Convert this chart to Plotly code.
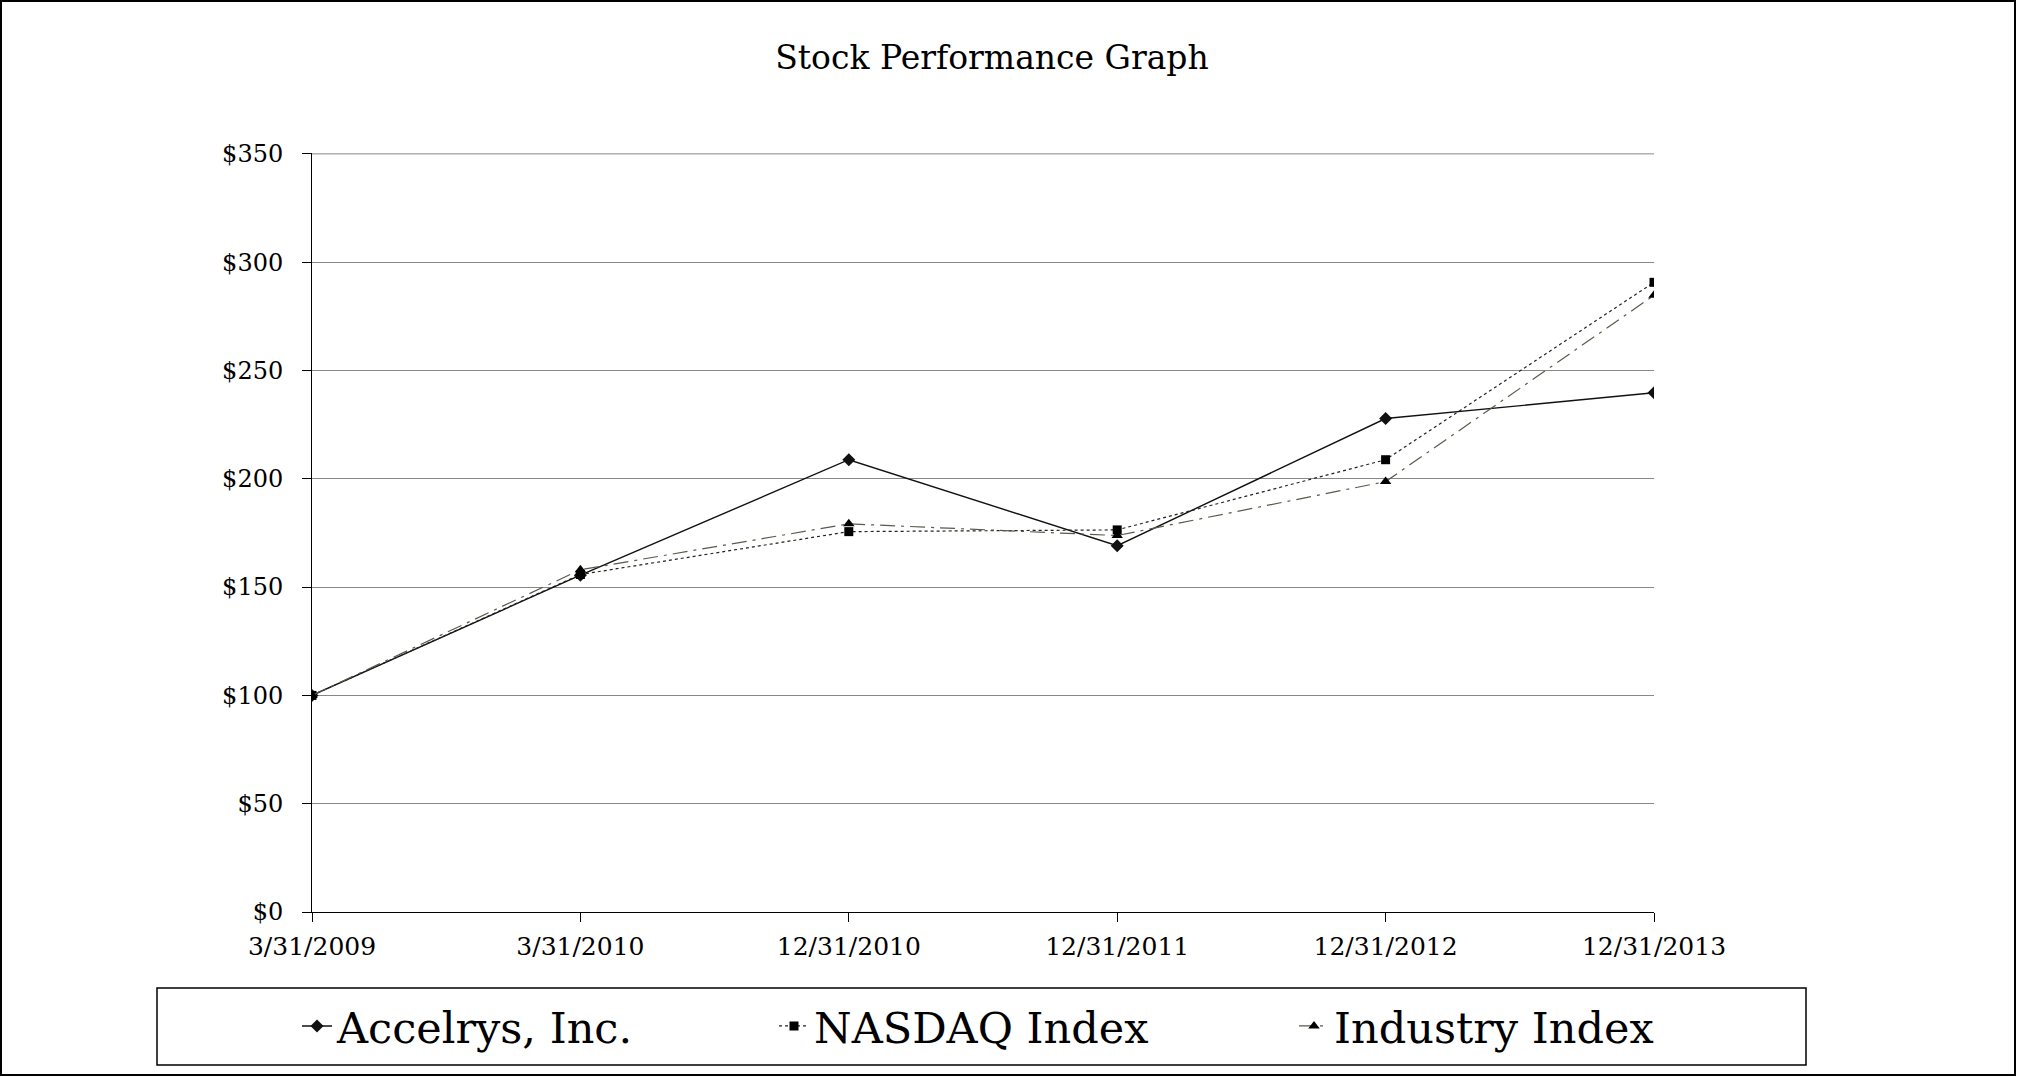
import plotly.graph_objects as go

dates = ["3/31/2009", "3/31/2010", "12/31/2010", "12/31/2011", "12/31/2012", "12/31/2013"]
accelrys = [100, 155.5, 208.8, 169.1, 227.8, 239.7]
nasdaq = [100, 155.8, 175.6, 176.4, 208.8, 290.7]
industry = [100, 158.0, 179.2, 173.8, 198.7, 284.7]
y_ticks = [0, 50, 100, 150, 200, 250, 300, 350]
y_tick_labels = ["$" + str(v) for v in y_ticks]

W, H = 2017, 1077
L, R, T, B = 312, 1654, 153, 912
pw, ph = R - L, B - T


def px(x):
    return (x - L) / pw


def py(y):
    return (B - y) / ph


FONT = "DejaVu Serif"

fig = go.Figure()
fig.add_trace(go.Scatter(
    x=dates, y=accelrys, name="Accelrys, Inc.", mode="lines+markers",
    line=dict(color="#111111", width=1.4, dash="solid"),
    marker=dict(symbol="diamond", size=10, color="#111111"),
    legendwidth=432,
))
fig.add_trace(go.Scatter(
    x=dates, y=nasdaq, name="NASDAQ Index", mode="lines+markers",
    line=dict(color="#222222", width=1.2, dash="dot"),
    marker=dict(symbol="square", size=9, color="#000000"),
    legendwidth=475,
))
fig.add_trace(go.Scatter(
    x=dates, y=industry, name="Industry Index", mode="lines+markers",
    line=dict(color="#5a5a4a", width=1.2, dash="longdashdot"),
    marker=dict(symbol="triangle-up", size=10, color="#000000"),
    legendwidth=340,
))

fig.update_layout(
    width=W, height=H,
    margin=dict(l=L, r=W - R, t=T, b=H - B),
    paper_bgcolor="white", plot_bgcolor="white",
    font=dict(family=FONT, color="#000000"),
    title=dict(text="Stock Performance Graph", x=992 / W, xanchor="center",
               y=1 - 57 / H, yanchor="middle", yref="container",
               font=dict(family=FONT, size=33, color="#000000")),
    showlegend=True,
    legend=dict(orientation="h", x=px(297), xanchor="left", y=py(1026), yanchor="middle",
                font=dict(family=FONT, size=43, color="#000000"),
                bgcolor="rgba(0,0,0,0)", borderwidth=0, itemwidth=30,
                traceorder="normal"),
    xaxis=dict(type="category", range=[0, 5], showgrid=False, showline=True,
               linecolor="#000000", linewidth=1, ticks="outside", ticklen=9,
               tickcolor="#000000", tickwidth=1, ticklabelstandoff=3,
               tickfont=dict(family=FONT, size=25, color="#000000"),
               zeroline=False, fixedrange=True),
    yaxis=dict(range=[0, 350.4], tickmode="array", tickvals=y_ticks, ticktext=y_tick_labels,
               showgrid=True,
               gridcolor="#888888", gridwidth=1, showline=True, linecolor="#000000",
               linewidth=1, ticks="outside", ticklen=9, tickcolor="#000000",
               ticklabelstandoff=14,
               tickfont=dict(family=FONT, size=24, color="#000000"),
               zeroline=False, fixedrange=True),
    shapes=[
        dict(type="line", xref="paper", yref="y", x0=0, x1=1,
             y0=y_ticks[-1], y1=y_ticks[-1], line=dict(color="#888888", width=1),
             layer="below"),
        dict(type="rect", xref="paper", yref="paper", x0=px(1), x1=px(2015),
             y0=py(1), y1=py(1075), line=dict(color="#000000", width=2), layer="above"),
        dict(type="rect", xref="paper", yref="paper", x0=px(157), x1=px(1806),
             y0=py(988), y1=py(1065), line=dict(color="#000000", width=1.5), layer="above"),
    ],
)

fig.write_html("out.html", config={"displayModeBar": False},
               post_script="document.body.style.margin='0';document.body.style.padding='0';")
